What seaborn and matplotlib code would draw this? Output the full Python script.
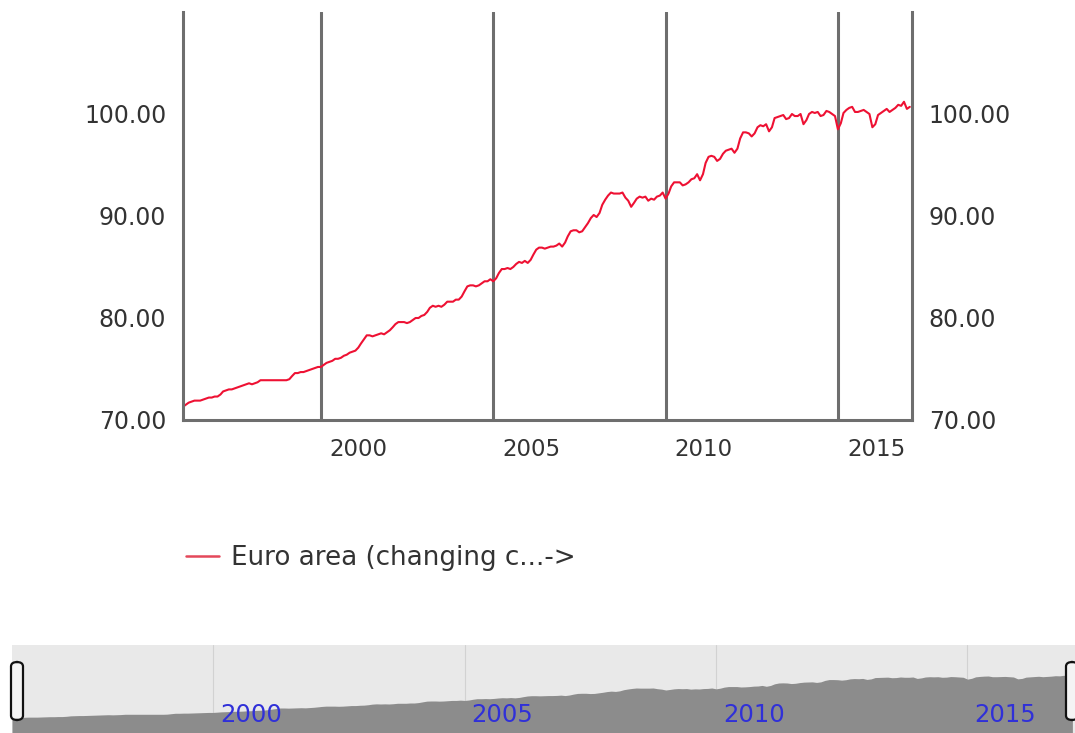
import matplotlib
matplotlib.use("Agg")
import matplotlib.pyplot as plt
import matplotlib.transforms as mtransforms
from matplotlib.patches import FancyBboxPatch
import seaborn as sns
import pandas as pd

# monthly index values, Jan 1996 .. Feb 2017
v1996 = [71.3, 71.5, 71.7, 71.8, 71.9, 71.9, 71.9, 72.0, 72.1, 72.2, 72.2, 72.3]
v1997 = [72.3, 72.5, 72.8, 72.9, 73.0, 73.0, 73.1, 73.2, 73.3, 73.4, 73.5, 73.6]
v1998 = [73.5, 73.6, 73.7, 73.9, 73.9, 73.9, 73.9, 73.9, 73.9, 73.9, 73.9, 73.9]
v1999 = [73.9, 74.0, 74.3, 74.6, 74.6, 74.7, 74.7, 74.8, 74.9, 75.0, 75.1, 75.2]
v2000 = [75.2, 75.4, 75.6, 75.7, 75.8, 76.0, 76.0, 76.1, 76.3, 76.4, 76.6, 76.7]
v2001 = [76.8, 77.1, 77.5, 77.9, 78.3, 78.3, 78.2, 78.3, 78.4, 78.5, 78.4, 78.6]
v2002 = [78.8, 79.1, 79.4, 79.6, 79.6, 79.6, 79.5, 79.6, 79.8, 80.0, 80.0, 80.2]
v2003 = [80.3, 80.6, 81.0, 81.2, 81.1, 81.2, 81.1, 81.3, 81.6, 81.6, 81.6, 81.8]
v2004 = [81.8, 82.1, 82.6, 83.1, 83.2, 83.2, 83.1, 83.2, 83.4, 83.6, 83.6, 83.8]
v2005 = [83.6, 83.9, 84.4, 84.8, 84.8, 84.9, 84.8, 85.0, 85.3, 85.5, 85.4, 85.6]
v2006 = [85.4, 85.7, 86.2, 86.7, 86.9, 86.9, 86.8, 86.9, 87.0, 87.0, 87.1, 87.3]
v2007 = [87.0, 87.4, 88.0, 88.5, 88.6, 88.6, 88.4, 88.5, 88.9, 89.3, 89.8, 90.1]
v2008 = [89.9, 90.3, 91.1, 91.6, 92.0, 92.3, 92.2, 92.2, 92.2, 92.3, 91.8, 91.5]
v2009 = [90.9, 91.3, 91.7, 91.9, 91.8, 91.9, 91.5, 91.7, 91.6, 91.9, 92.0, 92.3]
v2010 = [91.7, 92.2, 92.9, 93.3, 93.3, 93.3, 93.0, 93.1, 93.3, 93.6, 93.7, 94.1]
v2011 = [93.5, 94.1, 95.2, 95.8, 95.9, 95.8, 95.4, 95.6, 96.1, 96.4, 96.5, 96.6]
v2012 = [96.2, 96.6, 97.6, 98.2, 98.2, 98.1, 97.8, 98.1, 98.7, 98.9, 98.8, 99.0]
v2013 = [98.3, 98.7, 99.6, 99.7, 99.8, 99.9, 99.5, 99.6, 100.0, 99.8, 99.8, 100.0]
v2014 = [99.0, 99.4, 100.0, 100.2, 100.1, 100.2, 99.8, 99.9, 100.3, 100.2, 100.0, 99.8]
v2015 = [98.5, 99.1, 100.1, 100.4, 100.6, 100.7, 100.2, 100.2, 100.3, 100.4, 100.2, 100.0]
v2016 = [98.7, 99.0, 99.9, 100.1, 100.3, 100.5, 100.2, 100.4, 100.6, 100.9, 100.8, 101.2]
v2017 = [100.5, 100.7]

values = (v1996 + v1997 + v1998 + v1999 + v2000 + v2001 + v2002 + v2003 + v2004
          + v2005 + v2006 + v2007 + v2008 + v2009 + v2010 + v2011 + v2012 + v2013
          + v2014 + v2015 + v2016 + v2017)
dates = pd.date_range("1996-01-01", periods=len(values), freq="MS")
series_name = "Euro area (changing c...->"

grid_years = ["2000", "2005", "2010", "2015"]
y_ticks = [70, 80, 90, 100]

df = pd.DataFrame({"date": dates, "value": values})

sns.set_style("white")
plt.rcParams["font.family"] = ["DejaVu Sans"]

W, H = 1075, 733
fig = plt.figure(figsize=(W / 100, H / 100), dpi=100)
text_color = "#333333"

# main chart
ax = fig.add_axes([183 / W, 1 - 420 / H, 729 / W, 408 / H])
sns.lineplot(data=df, x="date", y="value", ax=ax, color="#ee1133",
             linewidth=1.5, legend=False)

grid_color = "#6e6e6e"
ax.set_xlim(pd.Timestamp("1996-01-01"), pd.Timestamp("2017-02-24"))
ax.set_ylim(70, 110)
ax.set_xlabel("")
ax.set_ylabel("")

grid_dates = [pd.Timestamp(y + "-01-01") for y in grid_years]
ax.set_xticks(grid_dates, labels=[""] * len(grid_dates))
ax.grid(axis="x", color=grid_color, linewidth=2.2)
ax.grid(axis="y", visible=False)
ax.tick_params(axis="x", length=0)

# year labels sit to the right of their grid line
lab_tr = mtransforms.offset_copy(ax.get_xaxis_transform(), fig=fig, x=9, y=-30, units="dots")
for d, y in zip(grid_dates, grid_years):
    ax.text(d, 0, y, transform=lab_tr, ha="left", va="center",
            fontsize=16.5, color=text_color)

ax.set_yticks(y_ticks, labels=[f"{t:.2f}" for t in y_ticks])
ax.tick_params(axis="y", length=0, labelsize=17, labelcolor=text_color,
               labelleft=True, labelright=True, pad=12)

for side in ["left", "right", "bottom"]:
    ax.spines[side].set_visible(True)
    ax.spines[side].set_color(grid_color)
    ax.spines[side].set_linewidth(2.2)
ax.spines["top"].set_visible(False)

# legend under the chart
handle = plt.Line2D([], [], color="#e4485a", linewidth=1.8)
fig.legend([handle], [series_name], loc="center left",
           bbox_to_anchor=(186 / W, 1 - 558 / H),
           frameon=False, fontsize=18.8, handlelength=1.25, handletextpad=0.48,
           borderpad=0, borderaxespad=0, labelcolor=text_color)

# navigator strip at the bottom
nav = fig.add_axes([12 / W, 0, (W - 12) / W, 88 / H])
nav.set_facecolor("#e9e9e9")
nav.fill_between(dates, values, 0, color="#8c8c8c", linewidth=0)
nav.set_xlim(pd.Timestamp("1996-01-01"), pd.Timestamp("2017-02-20"))
nav.set_ylim(60.8, 122.4)
nav_tr = mtransforms.offset_copy(nav.get_xaxis_transform(), fig=fig, x=7, y=0, units="dots")
for d, y in zip(grid_dates, grid_years):
    nav.axvline(d, color="#d2d2d2", linewidth=0.8, zorder=0)
    nav.text(d, 0.21, y, color="#3030d8", fontsize=17.5,
             va="center", ha="left", transform=nav_tr)
nav.set_xticks([])
nav.set_yticks([])
for s in nav.spines.values():
    s.set_visible(False)

# navigator handles
for x0 in (11, 1066):
    fig.patches.append(FancyBboxPatch((x0 / W, 1 - 720 / H), 12 / W, 58 / H,
                                      boxstyle="round,pad=0,rounding_size=0.006",
                                      transform=fig.transFigure, facecolor="#f4f4f4",
                                      edgecolor="#111111", linewidth=1.6))

fig.savefig("out.png", dpi=100)
